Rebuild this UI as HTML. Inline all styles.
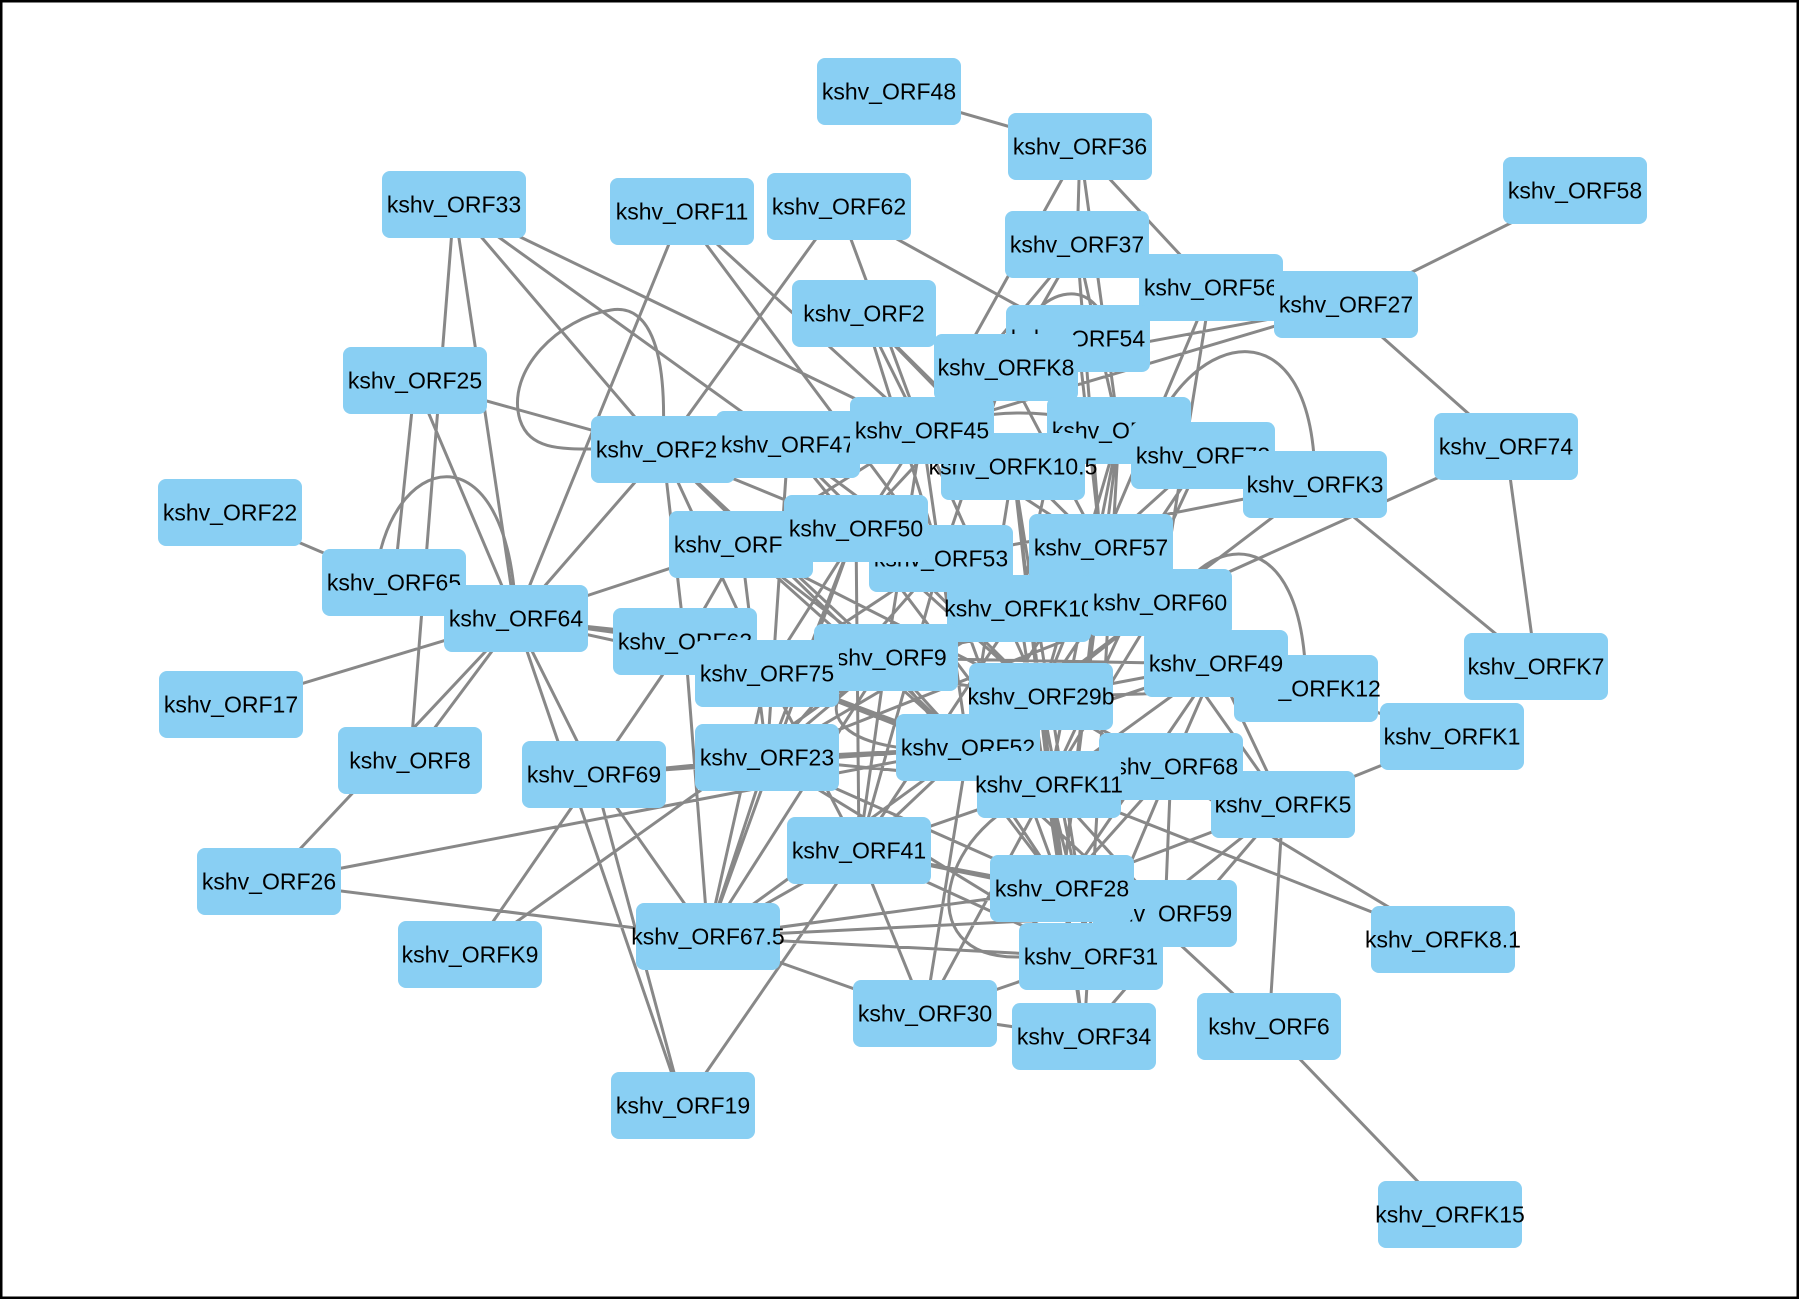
<!DOCTYPE html>
<html>
<head>
<meta charset="utf-8">
<style>
html,body{margin:0;padding:0;background:#fff;}
svg{display:block;}
</style>
</head>
<body>
<svg width="1800" height="1300" viewBox="0 0 1800 1300" xmlns="http://www.w3.org/2000/svg">
<rect x="0" y="0" width="1800" height="1300" fill="#ffffff"/>
<g fill="none" stroke="#888888" stroke-width="3" stroke-linecap="round">
<path d="
M889 92L1080 147
M1080 147L1211 288
M1080 147L922 431
M1575 191L1346 305
M1346 305L1506 447
M1346 305L922 431
M1346 305L1006 368
M1506 447L1160 603
M1506 447L1536 667
M1315 485L1536 667
M1315 485L1160 603
M1315 485L941 559
M1306 689L1452 737
M1452 737L1283 805
M1283 805L1269 1027
M1269 1027L1450 1215
M1101 548L1283 805
M1049 785L1443 940
M1041 697L1443 940
M968 748L1269 1027
M1283 805L1091 957
M1283 805L1084 1037
M1283 805L1062 889
M1171 767L1165 914
M1171 767L1091 957
M1049 785L1165 914
M767 758L1062 889
M859 851L1062 889
M859 851L1091 957
M708 937L1062 889
M708 937L1165 914
M708 937L1091 957
M708 937L925 1014
M708 937L685 642
M708 937L767 674
M708 937L767 758
M708 937L856 529
M708 937L886 658
M708 937L968 748
M708 937L859 851
M708 937L594 775
M708 937L269 882
M683 1106L516 619
M683 1106L594 775
M683 1106L859 851
M269 882L968 748
M269 882L516 619
M470 955L886 658
M470 955L594 775
M231 705L516 619
M230 513L394 583
M394 583L516 619
M516 619L685 642
M516 619L767 674
M516 619L886 658
M516 619L741 545
M516 619L663 450
M516 619L594 775
M516 619L410 761
M516 619L682 212
M516 619L454 205
M516 619L415 381
M454 205L410 761
M454 205L663 450
M454 205L788 445
M454 205L922 431
M415 381L394 583
M415 381L663 450
M682 212L941 559
M682 212L922 431
M839 207L663 450
M839 207L922 431
M839 207L1078 339
M594 775L767 758
M594 775L968 748
M594 775L685 642
M1080 147L1077 245
M1080 147L1119 431
M864 314L922 431
M864 314L941 559
M864 314L1101 548
M864 314L1013 467
M1077 245L1006 368
M1077 245L1119 431
M1077 245L1101 548
M1077 245L922 431
M1078 339L1101 548
M1078 339L1019 609
M1211 288L1160 603
M1211 288L1101 548
M1211 288L922 431
M1006 368L941 559
M1006 368L1101 548
M1006 368L856 529
M1006 368L1203 456
M922 431L1101 548
M922 431L1041 697
M922 431L968 748
M922 431L886 658
M922 431L767 674
M922 431L741 545
M788 445L856 529
M788 445L941 559
M788 445L1041 697
M788 445L767 758
M663 450L685 642
M663 450L767 674
M663 450L856 529
M663 450L886 658
M663 450L968 748
M741 545L886 658
M741 545L968 748
M741 545L767 758
M741 545L1041 697
M741 545L685 642
M856 529L767 758
M856 529L859 851
M856 529L1041 697
M856 529L1049 785
M941 559L767 758
M941 559L767 674
M941 559L1062 889
M941 559L859 851
M1013 467L1041 697
M1013 467L1049 785
M1013 467L968 748
M1013 467L1091 957
M1119 431L1049 785
M1119 431L1062 889
M1119 431L1084 1037
M1119 431L1041 697
M1203 456L1049 785
M1203 456L1041 697
M1203 456L1101 548
M1101 548L1041 697
M1101 548L1062 889
M1101 548L968 748
M1019 609L1062 889
M1019 609L767 758
M1019 609L767 674
M1019 609L859 851
M1160 603L1041 697
M1160 603L968 748
M1160 603L1049 785
M1160 603L886 658
M1160 603L767 758
M1216 664L1041 697
M1216 664L968 748
M1216 664L1049 785
M1216 664L1062 889
M1216 664L886 658
M886 658L968 748
M886 658L767 758
M886 658L859 851
M886 658L1062 889
M767 674L968 748
M767 674L859 851
M767 674L1049 785
M685 642L968 748
M685 642L1041 697
M767 758L968 748
M767 758L1049 785
M767 758L1091 957
M1041 697L1062 889
M1041 697L1091 957
M1041 697L1084 1037
M968 748L859 851
M968 748L1062 889
M968 748L925 1014
M1049 785L1091 957
M1049 785L925 1014
M1049 785L1084 1037
M1049 785L859 851
M1171 767L1041 697
M1171 767L1062 889
M859 851L925 1014
M1062 889L1084 1037
M925 1014L1091 957
M925 1014L1084 1037
M1216 664L1171 767
M1216 664L1283 805
M1306 689L1041 697
M859 851L1165 914
"/>
<path d="M1175 603C1200 540 1305 510 1306 689"/>
<path d="M375 585C385 450 510 420 516 619"/>
<path d="M663 440C668 330 640 305 611 310C560 318 505 370 520 420C530 450 560 449 600 449"/>
<path d="M1150 440C1190 330 1315 300 1315 484"/>
<path d="M1049 790C940 820 905 960 1020 957L1091 957"/>
<path d="M880 665C800 700 830 760 968 748"/>
<path d="M922 431Q1020 395 1119 431"/>
<path d="M1006 368C1030 280 1100 270 1110 340"/>
</g>
<g font-family="Liberation Sans, Arial, sans-serif" font-size="23" text-anchor="middle" fill="#000000">
<rect x="817" y="58" width="144" height="67" rx="8" fill="#89CFF3"/><text x="889" y="99.5">kshv_ORF48</text>
<rect x="1008" y="113" width="144" height="67" rx="8" fill="#89CFF3"/><text x="1080" y="154.5">kshv_ORF36</text>
<rect x="1503" y="157" width="144" height="67" rx="8" fill="#89CFF3"/><text x="1575" y="198.5">kshv_ORF58</text>
<rect x="382" y="171" width="144" height="67" rx="8" fill="#89CFF3"/><text x="454" y="212.5">kshv_ORF33</text>
<rect x="610" y="178" width="144" height="67" rx="8" fill="#89CFF3"/><text x="682" y="219.5">kshv_ORF11</text>
<rect x="767" y="173" width="144" height="67" rx="8" fill="#89CFF3"/><text x="839" y="214.5">kshv_ORF62</text>
<rect x="1139" y="254" width="144" height="67" rx="8" fill="#89CFF3"/><text x="1211" y="295.5">kshv_ORF56</text>
<rect x="1005" y="211" width="144" height="67" rx="8" fill="#89CFF3"/><text x="1077" y="252.5">kshv_ORF37</text>
<rect x="1274" y="271" width="144" height="67" rx="8" fill="#89CFF3"/><text x="1346" y="312.5">kshv_ORF27</text>
<rect x="792" y="280" width="144" height="67" rx="8" fill="#89CFF3"/><text x="864" y="321.5">kshv_ORF2</text>
<rect x="1006" y="305" width="144" height="67" rx="8" fill="#89CFF3"/><text x="1078" y="346.5">kshv_ORF54</text>
<rect x="934" y="334" width="144" height="67" rx="8" fill="#89CFF3"/><text x="1006" y="375.5">kshv_ORFK8</text>
<rect x="343" y="347" width="144" height="67" rx="8" fill="#89CFF3"/><text x="415" y="388.5">kshv_ORF25</text>
<rect x="591" y="416" width="144" height="67" rx="8" fill="#89CFF3"/><text x="663" y="457.5">kshv_ORF21</text>
<rect x="716" y="411" width="144" height="67" rx="8" fill="#89CFF3"/><text x="788" y="452.5">kshv_ORF47</text>
<rect x="1047" y="397" width="144" height="67" rx="8" fill="#89CFF3"/><text x="1119" y="438.5">kshv_ORF40</text>
<rect x="941" y="433" width="144" height="67" rx="8" fill="#89CFF3"/><text x="1013" y="474.5">kshv_ORFK10.5</text>
<rect x="850" y="397" width="144" height="67" rx="8" fill="#89CFF3"/><text x="922" y="438.5">kshv_ORF45</text>
<rect x="1131" y="422" width="144" height="67" rx="8" fill="#89CFF3"/><text x="1203" y="463.5">kshv_ORF73</text>
<rect x="1243" y="451" width="144" height="67" rx="8" fill="#89CFF3"/><text x="1315" y="492.5">kshv_ORFK3</text>
<rect x="1434" y="413" width="144" height="67" rx="8" fill="#89CFF3"/><text x="1506" y="454.5">kshv_ORF74</text>
<rect x="158" y="479" width="144" height="67" rx="8" fill="#89CFF3"/><text x="230" y="520.5">kshv_ORF22</text>
<rect x="669" y="511" width="144" height="67" rx="8" fill="#89CFF3"/><text x="741" y="552.5">kshv_ORF18</text>
<rect x="869" y="525" width="144" height="67" rx="8" fill="#89CFF3"/><text x="941" y="566.5">kshv_ORF53</text>
<rect x="784" y="495" width="144" height="67" rx="8" fill="#89CFF3"/><text x="856" y="536.5">kshv_ORF50</text>
<rect x="1029" y="514" width="144" height="67" rx="8" fill="#89CFF3"/><text x="1101" y="555.5">kshv_ORF57</text>
<rect x="947" y="575" width="144" height="67" rx="8" fill="#89CFF3"/><text x="1019" y="616.5">kshv_ORFK10</text>
<rect x="1088" y="569" width="144" height="67" rx="8" fill="#89CFF3"/><text x="1160" y="610.5">kshv_ORF60</text>
<rect x="322" y="549" width="144" height="67" rx="8" fill="#89CFF3"/><text x="394" y="590.5">kshv_ORF65</text>
<rect x="444" y="585" width="144" height="67" rx="8" fill="#89CFF3"/><text x="516" y="626.5">kshv_ORF64</text>
<rect x="613" y="608" width="144" height="67" rx="8" fill="#89CFF3"/><text x="685" y="649.5">kshv_ORF63</text>
<rect x="814" y="624" width="144" height="67" rx="8" fill="#89CFF3"/><text x="886" y="665.5">kshv_ORF9</text>
<rect x="695" y="640" width="144" height="67" rx="8" fill="#89CFF3"/><text x="767" y="681.5">kshv_ORF75</text>
<rect x="1234" y="655" width="144" height="67" rx="8" fill="#89CFF3"/><text x="1306" y="696.5">kshv_ORFK12</text>
<rect x="1144" y="630" width="144" height="67" rx="8" fill="#89CFF3"/><text x="1216" y="671.5">kshv_ORF49</text>
<rect x="969" y="663" width="144" height="67" rx="8" fill="#89CFF3"/><text x="1041" y="704.5">kshv_ORF29b</text>
<rect x="1464" y="633" width="144" height="67" rx="8" fill="#89CFF3"/><text x="1536" y="674.5">kshv_ORFK7</text>
<rect x="159" y="671" width="144" height="67" rx="8" fill="#89CFF3"/><text x="231" y="712.5">kshv_ORF17</text>
<rect x="1380" y="703" width="144" height="67" rx="8" fill="#89CFF3"/><text x="1452" y="744.5">kshv_ORFK1</text>
<rect x="338" y="727" width="144" height="67" rx="8" fill="#89CFF3"/><text x="410" y="768.5">kshv_ORF8</text>
<rect x="522" y="741" width="144" height="67" rx="8" fill="#89CFF3"/><text x="594" y="782.5">kshv_ORF69</text>
<rect x="695" y="724" width="144" height="67" rx="8" fill="#89CFF3"/><text x="767" y="765.5">kshv_ORF23</text>
<rect x="896" y="714" width="144" height="67" rx="8" fill="#89CFF3"/><text x="968" y="755.5">kshv_ORF52</text>
<rect x="1211" y="771" width="144" height="67" rx="8" fill="#89CFF3"/><text x="1283" y="812.5">kshv_ORFK5</text>
<rect x="1099" y="733" width="144" height="67" rx="8" fill="#89CFF3"/><text x="1171" y="774.5">kshv_ORF68</text>
<rect x="977" y="751" width="144" height="67" rx="8" fill="#89CFF3"/><text x="1049" y="792.5">kshv_ORFK11</text>
<rect x="787" y="817" width="144" height="67" rx="8" fill="#89CFF3"/><text x="859" y="858.5">kshv_ORF41</text>
<rect x="197" y="848" width="144" height="67" rx="8" fill="#89CFF3"/><text x="269" y="889.5">kshv_ORF26</text>
<rect x="1093" y="880" width="144" height="67" rx="8" fill="#89CFF3"/><text x="1165" y="921.5">kshv_ORF59</text>
<rect x="990" y="855" width="144" height="67" rx="8" fill="#89CFF3"/><text x="1062" y="896.5">kshv_ORF28</text>
<rect x="1019" y="923" width="144" height="67" rx="8" fill="#89CFF3"/><text x="1091" y="964.5">kshv_ORF31</text>
<rect x="398" y="921" width="144" height="67" rx="8" fill="#89CFF3"/><text x="470" y="962.5">kshv_ORFK9</text>
<rect x="636" y="903" width="144" height="67" rx="8" fill="#89CFF3"/><text x="708" y="944.5">kshv_ORF67.5</text>
<rect x="1371" y="906" width="144" height="67" rx="8" fill="#89CFF3"/><text x="1443" y="947.5">kshv_ORFK8.1</text>
<rect x="853" y="980" width="144" height="67" rx="8" fill="#89CFF3"/><text x="925" y="1021.5">kshv_ORF30</text>
<rect x="1012" y="1003" width="144" height="67" rx="8" fill="#89CFF3"/><text x="1084" y="1044.5">kshv_ORF34</text>
<rect x="1197" y="993" width="144" height="67" rx="8" fill="#89CFF3"/><text x="1269" y="1034.5">kshv_ORF6</text>
<rect x="611" y="1072" width="144" height="67" rx="8" fill="#89CFF3"/><text x="683" y="1113.5">kshv_ORF19</text>
<rect x="1378" y="1181" width="144" height="67" rx="8" fill="#89CFF3"/><text x="1450" y="1222.5">kshv_ORFK15</text>
</g>
<rect x="1.25" y="1.25" width="1796.5" height="1296.5" fill="none" stroke="#000000" stroke-width="2.5"/>
</svg>
</body>
</html>
